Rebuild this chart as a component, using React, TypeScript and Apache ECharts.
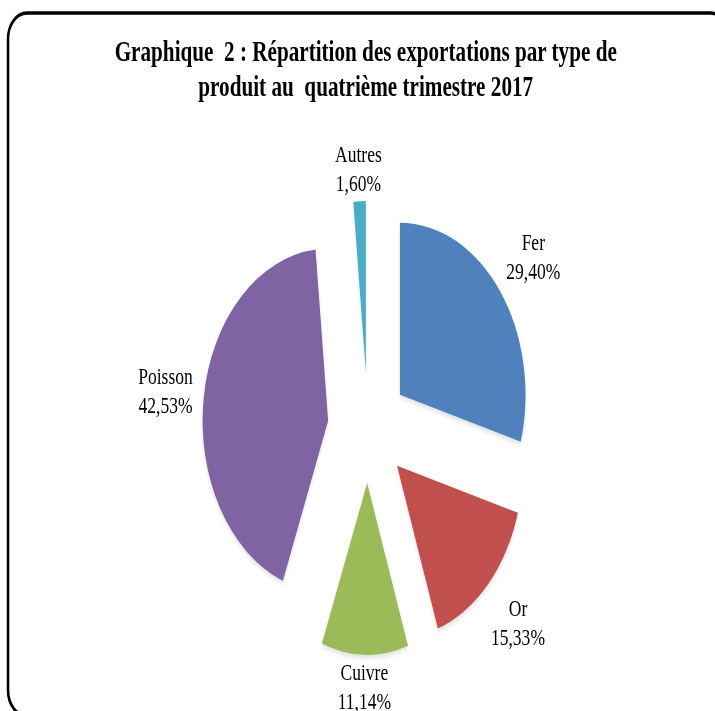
import React, { useEffect, useRef } from "react";
import * as echarts from "echarts";

const titleLines = [
  "Graphique  2 : Répartition des exportations par type de",
  "produit au  quatrième trimestre 2017",
];
const categories = ["Fer", "Or", "Cuivre", "Poisson", "Autres"];
const shares = [29.4, 15.33, 11.14, 42.53, 1.6];
const colors = ["#4F81BD", "#C0504D", "#9BBB59", "#8064A2", "#4BACC6"];

const SX = 0.73; // horizontal compression of the original picture
const W = 1000;
const H = 711;
const CX = 504;
const CY = 428;
const R = 172;
const OFFSET = 55;
const GAP = 2;
const PADX = 10;
const LABEL_FONT = 24;
const LABEL_LH = 29;
const FONT = "Liberation Serif";

const fmt = (v: number) => v.toFixed(2).replace(".", ",") + "%";

function measure(text: string): number {
  const c = document.createElement("canvas").getContext("2d");
  if (!c) return text.length * LABEL_FONT * 0.5;
  c.font = `${LABEL_FONT}px "${FONT}"`;
  return c.measureText(text).width;
}

export default function App() {
  const ref = useRef<HTMLDivElement>(null);
  useEffect(() => {
    if (!ref.current) return;
    const chart = echarts.init(ref.current, undefined, { renderer: "svg" });
    const total = shares.reduce((a, b) => a + b, 0);
    let cum = 0;
    const labels = categories.map((name, i) => {
      const v = shares[i];
      const a = ((90 - ((cum + v / 2) / total) * 360) * Math.PI) / 180;
      cum += v;
      const text = `${name}\n${fmt(v)}`;
      const hw = Math.max(measure(name), measure(fmt(v))) / 2 + PADX;
      const hh = LABEL_LH;
      const d =
        R + OFFSET + GAP +
        Math.abs(hw * Math.cos(a)) +
        Math.abs(hh * Math.sin(a));
      return {
        type: "text",
        x: CX + d * Math.cos(a),
        y: CY - d * Math.sin(a),
        silent: true,
        style: {
          text,
          fontFamily: FONT,
          fontSize: LABEL_FONT,
          lineHeight: LABEL_LH,
          fill: "#000",
          align: "center",
          verticalAlign: "middle",
          textAlign: "center",
          textVerticalAlign: "middle",
        },
      };
    });
    chart.setOption({
      animation: false,
      backgroundColor: "#ffffff",
      title: {
        text: titleLines.join("\n"),
        left: 496,
        top: 28,
        textAlign: "center",
        textStyle: {
          fontFamily: FONT,
          fontWeight: "bold",
          fontSize: 29,
          lineHeight: 35,
          color: "#000",
        },
      },
      graphic: [
        {
          type: "rect",
          shape: { x: 11, y: 13, width: 988, height: 703, r: 26 },
          style: { fill: "none", stroke: "#000", lineWidth: 3.5 },
          silent: true,
        },
        ...labels,
      ],
      series: [
        {
          type: "pie",
          center: [CX, CY],
          radius: [0, R],
          startAngle: 90,
          clockwise: true,
          selectedMode: "multiple",
          selectedOffset: OFFSET,
          avoidLabelOverlap: false,
          emphasis: { disabled: true },
          itemStyle: {
            shadowBlur: 5,
            shadowColor: "rgba(0,0,0,0.12)",
            shadowOffsetY: 3,
          },
          label: { show: false },
          labelLine: { show: false },
          data: categories.map((c, i) => ({
            name: c,
            value: shares[i],
            selected: true,
            itemStyle: { color: colors[i] },
          })),
        },
      ],
    });
    return () => chart.dispose();
  }, []);
  return (
    <div
      style={{
        position: "fixed",
        left: 0,
        top: 0,
        width: 715,
        height: H,
        overflow: "hidden",
        background: "#fff",
      }}
    >
      <div
        ref={ref}
        style={{
          width: W,
          height: H,
          transform: `scaleX(${SX})`,
          transformOrigin: "0 0",
        }}
      />
    </div>
  );
}
